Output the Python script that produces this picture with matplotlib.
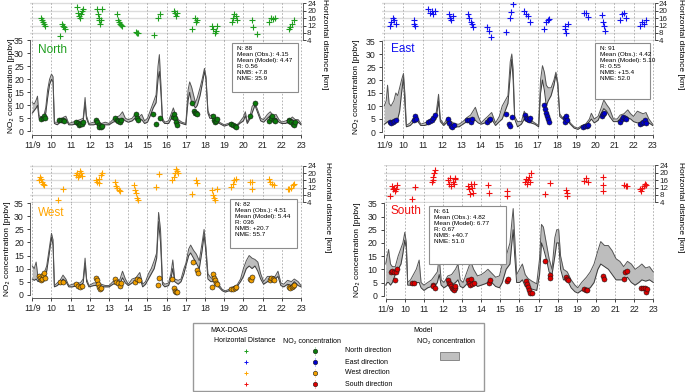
import matplotlib

matplotlib.use("Agg")
import matplotlib.pyplot as plt
from matplotlib.patches import Rectangle
import numpy as np

plt.rcParams["font.family"] = ["Liberation Sans", "DejaVu Sans"]

W, H = 685, 392

# ---------------------------------------------------------------- data
day_ticks = list(range(9, 24))
day_labels = ["11/9"] + [str(d) for d in range(10, 24)]
dist_ticks = [4, 8, 12, 16, 20, 24]
no2_ticks = [0, 5, 10, 15, 20, 25, 30, 35]

# model NO2 band (lower / upper), knots in day-of-November
north_model_t = [9.00, 9.10, 9.20, 9.27, 9.35, 9.45, 9.60, 9.70, 9.80, 9.90, 10.00, 10.08, 10.15, 10.30, 10.45,
                 10.65, 10.75, 10.90, 11.10, 11.30, 11.50, 11.65, 11.75, 11.82, 11.95, 12.20, 12.40, 12.60, 12.80,
                 13.00, 13.20, 13.40, 13.55, 13.70, 13.85, 14.00, 14.20, 14.35, 14.50, 14.70, 14.85, 15.00, 15.15,
                 15.30, 15.45, 15.55, 15.62, 15.70, 15.78, 15.90, 16.10, 16.25, 16.35, 16.45, 16.60, 16.80, 17.00,
                 17.12, 17.20, 17.30, 17.40, 17.50, 17.60, 17.75, 17.85, 17.97, 18.05, 18.15, 18.25, 18.40, 18.55,
                 18.75, 19.00, 19.20, 19.40, 19.60, 19.80, 20.00, 20.10, 20.20, 20.35, 20.45, 20.60, 20.75, 20.90,
                 21.05, 21.25, 21.40, 21.55, 21.70, 21.85, 22.00, 22.20, 22.40, 22.55, 22.70, 22.85, 23.00]
north_model_lo = [7, 8, 9, 10, 5, 4.5, 5, 7, 13, 18, 20, 19, 3, 2.5, 3.5,
                  4.5, 4.5, 2.5, 2.5, 3, 3.5, 4, 11, 5, 2.5, 2.5, 3, 2, 2.5,
                  2.5, 3.5, 4, 4, 5, 4, 3.5, 4, 5, 4, 4.5, 3, 3.5, 6,
                  9, 11, 20, 23, 15, 4, 3, 3, 5, 7, 5, 3.5, 3, 2.5,
                  12, 15, 11, 10, 9, 10, 14, 18, 23, 20, 7, 5, 5, 4,
                  3, 2, 2.5, 3, 1.5, 3, 4, 6, 3, 5, 7, 10, 7, 4,
                  3.5, 5, 6, 4.5, 5, 3.5, 3, 3, 4, 4.5, 3.5, 3.5, 2.5]
north_model_hi = [11, 10.5, 12, 13.5, 6, 5.5, 6, 9, 16, 20, 22, 21, 3.5, 3.5, 4.5,
                  5.5, 5.8, 3, 3.5, 4, 4.5, 5, 13, 6, 3, 3.5, 4, 3, 3.5,
                  3, 4.5, 5.5, 6, 7.5, 5, 4.5, 5, 6.5, 5, 6.5, 4, 5, 8,
                  11, 14, 25, 29.5, 18, 5, 3.5, 4, 7, 9, 6.5, 4.5, 3.5, 3,
                  16, 19, 17, 14, 11, 13, 17, 20, 24.2, 21, 8, 6, 6.5, 5,
                  3.5, 2.5, 3, 3.5, 2, 3.5, 5.5, 7.5, 3.5, 6, 9.5, 11, 8, 5,
                  4.5, 6.5, 7.5, 6, 6.5, 4.5, 3.5, 4, 4.5, 5.5, 4.5, 4.5, 3]

east_model_t = [9.00, 9.10, 9.17, 9.25, 9.35, 9.50, 9.60, 9.70, 9.80, 9.90, 10.00, 10.08, 10.15, 10.35, 10.55,
                10.70, 10.90, 11.10, 11.30, 11.50, 11.70, 11.83, 11.92, 12.10, 12.30, 12.50, 12.70, 12.90, 13.10,
                13.30, 13.50, 13.75, 13.90, 14.05, 14.25, 14.40, 14.60, 14.80, 15.00, 15.15, 15.30, 15.45, 15.57,
                15.65, 15.72, 15.80, 15.95, 16.15, 16.30, 16.45, 16.65, 16.85, 17.05, 17.15, 17.25, 17.35, 17.45,
                17.55, 17.70, 17.85, 17.95, 18.05, 18.15, 18.30, 18.50, 18.70, 18.90, 19.10, 19.30, 19.50, 19.70,
                19.80, 19.95, 20.15, 20.30, 20.45, 20.60, 20.75, 20.95, 21.15, 21.30, 21.50, 21.70, 21.85, 22.00,
                22.20, 22.35, 22.50, 22.65, 22.80, 23.00]
east_model_lo = [3, 3.5, 4, 3.5, 3, 3.5, 4, 5, 8, 15, 21, 10, 2, 2.5, 4,
                 4.5, 2.5, 2.5, 3, 4, 5, 12, 4, 2.5, 4, 2.5, 2, 2, 3,
                 4, 4.5, 4.5, 3.5, 3, 3.5, 4, 5, 2.5, 4, 5, 8, 11, 22,
                 28, 20, 5, 2, 3, 5, 4, 3.5, 3, 2, 15, 20, 16, 10,
                 12, 14, 18, 22, 18, 6, 5, 5, 3, 1.5, 1, 2, 2.5, 4,
                 5, 3.5, 4.5, 7, 9, 8, 6, 4, 4, 5, 4.5, 5.5, 5, 4,
                 3.5, 3.5, 4, 4.5, 3.5, 2.5]
east_model_hi = [10, 12, 18, 11, 10, 12, 15, 14, 17, 20, 22.5, 14, 2.5, 3.5, 5.5,
                 6, 3, 3.5, 4, 5.5, 7, 14.5, 5, 3, 5.5, 4, 3, 3, 4,
                 5.5, 6.5, 9.5, 6, 3.5, 5, 6, 7.5, 3.5, 6, 10, 12, 14, 27,
                 30, 24, 6, 4, 4, 8, 5.5, 4.5, 3.5, 2.5, 20, 25.5, 23, 18,
                 17, 17, 20, 23, 19, 7, 5.5, 6.5, 3.5, 2, 1.5, 2.5, 3, 5,
                 7.2, 5, 6, 9, 12.3, 10.5, 9, 5, 5, 6.5, 7, 8.5, 7, 6,
                 8, 7.5, 7, 7.5, 5, 3]

west_model_t = [9.00, 9.10, 9.20, 9.30, 9.45, 9.60, 9.75, 9.85, 10.00, 10.08, 10.15, 10.30, 10.45, 10.60, 10.75,
                10.90, 11.10, 11.30, 11.50, 11.65, 11.75, 11.83, 11.95, 12.20, 12.40, 12.60, 12.80, 13.00, 13.20,
                13.40, 13.55, 13.70, 13.85, 14.00, 14.20, 14.40, 14.60, 14.75, 14.90, 15.05, 15.20, 15.35, 15.48,
                15.58, 15.68, 15.78, 15.90, 16.10, 16.22, 16.32, 16.42, 16.60, 16.75, 16.90, 17.00, 17.15, 17.25,
                17.40, 17.55, 17.70, 17.85, 17.95, 18.05, 18.15, 18.30, 18.50, 18.70, 18.90, 19.05, 19.25, 19.45,
                19.65, 19.85, 20.00, 20.15, 20.30, 20.45, 20.60, 20.75, 20.90, 21.05, 21.25, 21.45, 21.65, 21.80,
                21.95, 22.10, 22.30, 22.50, 22.65, 22.85, 23.00]
west_model_lo = [6, 5.5, 6, 5, 5.5, 6, 9, 14, 22, 19, 3, 3.5, 4.5, 6, 5,
                 3, 3, 3.5, 3.5, 4.5, 12, 5, 3, 3.5, 3.5, 3, 3, 3, 4,
                 4.5, 4, 6.5, 4.5, 3.5, 4.5, 5, 6.5, 3, 4, 6, 8, 10, 14,
                 28, 20, 4, 3, 3.5, 6, 10, 5, 4, 5, 8, 11, 15, 16,
                 14, 12, 10, 17, 23, 16, 6, 5, 5, 3, 1.5, 1, 1.5, 2.5,
                 3, 5, 7, 10, 11, 10, 11, 9, 6, 4, 5, 5.5, 6, 7,
                 3.5, 3, 4, 3.5, 5, 3.5, 3]
west_model_hi = [11, 10, 12.5, 6.5, 7, 8, 11, 16, 23.5, 21, 3.5, 4.5, 5.5, 7.5, 6,
                 3.5, 4, 4.5, 4.5, 6, 14, 6, 3.5, 4.5, 4.5, 4, 3.5, 3.5, 5,
                 6, 5.5, 9, 6, 4, 6, 6.5, 8.5, 4, 5, 8, 10, 13, 16,
                 31.5, 25, 5, 4, 4.5, 8, 13.3, 6, 5.5, 6, 10, 12, 17.5, 19,
                 17, 15.5, 13, 20, 25, 18, 8, 6.5, 6, 4, 2, 1.5, 2, 3,
                 3.5, 6, 10, 13, 15, 14, 13.5, 12.5, 8, 5, 7, 7, 7, 9,
                 4.5, 4, 5.5, 5, 6, 5, 3.5]

south_model_t = [9.00, 9.08, 9.15, 9.25, 9.35, 9.50, 9.65, 9.80, 9.90, 10.00, 10.08, 10.15, 10.30, 10.45, 10.60,
                 10.75, 10.85, 11.00, 11.20, 11.40, 11.60, 11.70, 11.80, 11.90, 12.05, 12.25, 12.45, 12.65, 12.78,
                 12.90, 13.05, 13.25, 13.45, 13.60, 13.80, 14.00, 14.20, 14.35, 14.55, 14.75, 14.95, 15.10, 15.30,
                 15.50, 15.60, 15.67, 15.75, 15.85, 16.00, 16.15, 16.30, 16.45, 16.65, 16.90, 17.05, 17.15, 17.25,
                 17.40, 17.55, 17.70, 17.85, 17.95, 18.05, 18.15, 18.30, 18.50, 18.70, 18.90, 19.05, 19.25, 19.50,
                 19.70, 19.90, 20.10, 20.25, 20.45, 20.65, 20.85, 21.05, 21.25, 21.45, 21.65, 21.85, 22.05, 22.25,
                 22.40, 22.60, 22.80, 23.00]
south_model_lo = [4, 5, 5, 4, 5, 8, 10, 12, 16, 21, 18, 4, 4, 4.5, 5,
                  5, 3, 2, 3, 3.5, 4, 5, 8, 4, 3, 4, 4, 5, 6,
                  3.5, 3, 4.5, 6, 5, 3.5, 4, 4.5, 5, 5, 3.5, 3, 5, 10,
                  12, 20, 25, 15, 5, 5, 6, 3.5, 3, 2.5, 2, 8, 20, 18,
                  14, 9, 8, 15, 20, 20, 10, 6, 6, 3, 1.5, 1, 2, 2.5,
                  3, 5, 10, 12, 11, 10, 8, 6, 6, 6, 7, 5, 4, 5,
                  6, 5.5, 6, 5]
south_model_hi = [12, 15, 17.5, 12, 11, 11, 15, 18, 20, 24, 20, 5, 6, 8, 10,
                  13.5, 5, 4, 5, 6, 8, 9, 14.5, 6, 5, 7.5, 8, 10, 12,
                  6, 5, 9, 13, 10, 7.5, 8, 9, 10, 8.5, 7, 7.5, 12, 15,
                  20, 28, 33, 22, 8, 10, 12, 8, 6.5, 5.5, 4.5, 14, 27, 26,
                  20, 14, 10, 22, 25, 25, 15, 10, 9, 6, 4, 3, 5, 7,
                  9, 12, 17, 20.5, 19, 19, 17, 14, 13, 11, 13, 12, 10, 11,
                  12, 10.5, 11, 9]

# MAX-DOAS NO2 observations
north_obs_t = [9.45, 9.55, 9.60, 9.65, 10.40, 10.50, 10.60, 10.65, 11.30, 11.40, 11.45, 11.50, 11.60, 11.65,
               12.30, 12.35, 12.45, 12.50, 12.60, 12.65, 13.30, 13.40, 13.45, 13.55, 13.60, 14.40, 14.45, 14.50,
               15.30, 15.45, 15.65, 16.35, 16.40, 16.45, 16.50, 16.55, 17.30, 17.42, 17.48, 17.55, 17.60,
               18.40, 18.45, 18.50, 18.55, 18.60, 19.35, 19.45, 19.55, 19.60, 20.35, 20.60,
               21.35, 21.45, 21.50, 21.60, 21.65, 22.35, 22.40, 22.50, 22.60, 22.65, 22.70]
north_obs_no2 = [4.7, 5.0, 6.0, 5.2, 4.5, 4.3, 4.5, 4.0, 3.5, 3.2, 2.5, 2.8, 3.0, 3.5,
                 4.5, 3.5, 2.5, 1.8, 1.5, 2.0, 5.0, 4.5, 4.0, 3.5, 4.5, 6.5, 5.0, 4.5,
                 6.5, 3.0, 5.0, 5.5, 6.5, 5.0, 3.5, 2.5, 10.8, 8.0, 6.9, 7.2, 6.5,
                 5.8, 4.5, 3.5, 4.0, 4.8, 3.0, 2.5, 2.0, 1.8, 5.8, 10.8,
                 4.0, 5.0, 5.8, 4.5, 3.8, 4.2, 3.8, 3.5, 3.0, 2.5, 3.5]
east_obs_t = [9.30, 9.35, 9.45, 9.50, 9.60, 10.55, 10.60, 10.65, 11.30, 11.40, 11.50, 11.55, 11.65,
              12.30, 12.40, 12.50, 12.55, 12.65, 13.30, 13.40, 13.50, 13.60, 14.35, 14.45, 14.50,
              15.33, 15.50, 15.55, 15.68, 16.35, 16.40, 16.45, 16.55, 16.62,
              17.35, 17.40, 17.45, 17.50, 17.55, 17.60, 18.40, 18.45, 18.50, 18.55,
              19.35, 19.45, 19.55, 19.60, 20.35, 20.40, 20.45, 21.30, 21.40, 21.45, 21.55, 21.60,
              22.35, 22.45, 22.50, 22.60, 22.65]
east_obs_no2 = [4.0, 3.5, 3.8, 4.2, 4.5, 4.5, 6.0, 5.0, 4.0, 4.2, 4.8, 5.5, 6.5,
                5.0, 3.5, 2.5, 2.0, 2.8, 4.8, 4.5, 4.0, 5.0, 4.0, 4.5, 5.0,
                6.8, 3.0, 2.5, 5.8, 6.5, 5.5, 5.0, 4.5, 5.5,
                10.5, 9.0, 7.5, 6.0, 5.0, 4.0, 4.0, 5.5, 6.0, 4.5,
                2.0, 2.5, 2.5, 2.8, 6.0, 6.8, 7.2, 4.0, 5.0, 5.8, 5.5, 5.0,
                3.0, 3.5, 4.0, 4.5, 3.5]
west_obs_t = [9.35, 9.40, 9.45, 9.50, 9.55, 9.60, 9.65, 10.45, 10.60, 11.30, 11.40, 11.50, 11.60,
              12.30, 12.35, 12.40, 12.45, 12.55, 12.60, 13.30, 13.35, 13.45, 13.55, 13.60,
              14.35, 14.45, 14.55, 15.55, 15.60, 16.30, 16.40, 16.45, 16.50, 16.55,
              17.35, 17.60, 17.65, 18.35, 18.40, 18.45, 18.50, 18.55, 18.60,
              19.35, 19.45, 19.55, 19.60, 20.35, 20.40, 20.45, 21.40, 21.45, 21.55, 21.60,
              22.35, 22.45, 22.55, 22.60, 22.65]
west_obs_no2 = [7.0, 6.5, 5.5, 6.0, 7.5, 8.5, 6.5, 4.8, 4.8, 4.0, 3.5, 3.0, 3.5,
                6.5, 5.5, 4.0, 3.0, 2.0, 2.5, 6.0, 5.0, 4.5, 3.5, 4.5,
                5.0, 6.0, 5.5, 3.7, 6.3, 6.0, 2.5, 1.5, 1.0, 1.2,
                12.4, 9.5, 8.5, 3.0, 8.0, 6.5, 5.5, 4.5, 4.0,
                2.0, 2.0, 2.5, 3.0, 6.0, 5.5, 6.8, 5.5, 6.5, 6.0, 5.5,
                3.0, 2.5, 3.0, 3.5, 3.8]
south_obs_t = [9.30, 9.35, 9.45, 9.50, 9.55, 9.60, 10.40, 10.50, 11.45, 11.50, 11.60,
               12.25, 12.30, 12.35, 12.40, 12.45, 12.50, 12.55, 12.60, 12.65,
               13.30, 13.35, 13.40, 13.45, 13.50, 13.60, 14.40, 14.45, 15.35, 15.40,
               16.35, 16.40, 16.42, 16.50, 16.55, 16.65, 17.33, 17.58, 17.60,
               18.45, 18.50, 18.55, 19.40, 19.50, 19.55, 20.35, 20.40, 21.45, 21.50, 21.60,
               22.35, 22.45, 22.55, 22.60, 22.65]
south_obs_no2 = [9.0, 9.5, 9.0, 6.0, 9.0, 10.2, 5.0, 4.8, 4.0, 3.5, 3.0,
                 6.0, 5.0, 4.5, 3.8, 3.0, 2.5, 2.0, 2.8, 3.5,
                 6.0, 5.0, 4.0, 6.5, 4.5, 5.0, 5.0, 5.8, 5.5, 6.3,
                 5.5, 4.5, 3.2, 2.0, 1.2, 1.0, 13.3, 8.0, 6.6,
                 7.2, 6.5, 5.8, 2.5, 2.3, 2.0, 7.5, 6.5, 6.5, 8.8, 9.5,
                 2.8, 2.8, 3.0, 1.5, 2.5]

# MAX-DOAS horizontal distance [km]
north_dist_t = [9.45, 9.50, 9.55, 9.60, 9.65, 10.45, 10.55, 10.60, 10.65, 10.70,
                11.35, 11.40, 11.45, 11.50, 11.55, 11.60, 11.65, 12.35, 12.40, 12.45, 12.50, 12.55, 12.60, 12.65,
                13.40, 13.45, 13.50, 13.55, 13.60, 13.65, 14.40, 14.45, 14.50, 15.35, 15.55, 15.65,
                16.40, 16.45, 16.50, 16.55, 17.30, 17.50, 17.55, 17.60, 18.35, 18.42, 18.50, 18.55, 18.62,
                19.40, 19.45, 19.50, 19.60, 19.65, 20.45, 20.50, 20.70, 21.35, 21.45, 21.55, 21.65,
                22.35, 22.45, 22.55, 22.65]
north_dist_km = [16, 15, 14, 13, 12, 6.3, 13, 12, 11, 10,
                 22, 19, 17, 16, 18, 20, 21, 21, 18, 16, 15, 13, 15, 21,
                 18, 15, 14, 13, 12.5, 12, 8.5, 7.8, 8, 6.9, 16, 18.3,
                 20, 19, 17, 19, 10, 16, 14, 15, 12, 10, 8, 9, 12,
                 14, 16, 18, 17, 15, 15, 11, 7.5, 14, 16, 15.5, 16,
                 10, 11, 13, 15]
east_dist_t = [9.30, 9.35, 9.45, 9.50, 9.60, 10.55, 10.57, 10.60, 11.30, 11.40, 11.50, 11.55, 11.65,
               12.35, 12.45, 12.50, 12.60, 13.35, 13.40, 13.50, 13.55, 13.65, 14.35, 14.45, 14.55,
               15.35, 15.55, 15.60, 15.70, 16.30, 16.40, 16.50, 16.60, 17.35, 17.45, 17.55, 17.60,
               18.40, 18.45, 18.50, 18.60, 19.40, 19.50, 19.60, 20.35, 20.40, 20.45, 20.50,
               21.30, 21.40, 21.50, 21.60, 22.35, 22.45, 22.55, 22.65]
east_dist_km = [11.5, 14, 16, 15, 13, 15, 13, 12, 21, 19, 20, 18, 20,
                18, 16, 15, 17, 18, 16, 14, 13, 11, 11, 9, 6,
                8.3, 16, 19.5, 23.6, 20, 18, 17, 14, 10, 14, 15, 15.5,
                12, 10, 8, 13, 19, 18.5, 16.5, 17.5, 14, 12, 9,
                15, 18, 19, 16, 12, 14, 13, 15]
west_dist_t = [9.35, 9.40, 9.45, 9.50, 9.55, 9.60, 10.32, 10.58,
               11.30, 11.35, 11.40, 11.45, 11.50, 11.55, 11.60, 12.30, 12.35, 12.45, 12.50, 12.60, 12.65,
               13.30, 13.35, 13.40, 13.50, 13.55, 14.30, 14.35, 14.40, 14.45, 14.50, 15.45, 15.60,
               16.30, 16.40, 16.45, 16.50, 16.55, 16.60, 17.30, 17.55, 17.57,
               18.35, 18.40, 18.45, 18.50, 18.60, 19.35, 19.45, 19.50, 19.60, 20.35, 20.45, 20.47,
               21.35, 21.40, 21.50, 21.60, 22.30, 22.40, 22.50, 22.60, 22.65]
west_dist_km = [16, 18, 17, 15, 14, 13.5, 5, 11,
                19, 20, 18, 19, 21, 20, 18.5, 16, 15, 14.5, 17, 19, 20,
                15, 13, 12, 10.5, 10, 13.5, 10.5, 9, 6.5, 5, 12.4, 19.5,
                16, 18, 20, 22, 21, 20, 8.8, 16.3, 14.5,
                10.5, 8, 6.5, 5.5, 11, 12.5, 14, 16, 17, 15, 15, 11,
                17, 15, 14, 13.5, 11, 11.5, 12, 13.5, 14]
south_dist_t = [9.25, 9.35, 9.40, 9.45, 9.50, 9.55, 9.60, 10.40, 10.55,
                11.40, 11.45, 11.50, 11.55, 11.60, 12.25, 12.30, 12.35, 12.40, 12.50, 12.55, 12.60, 12.65,
                13.30, 13.35, 13.40, 13.45, 13.50, 13.55, 13.60, 14.35, 14.40, 15.35, 15.37,
                16.30, 16.35, 16.40, 16.45, 16.50, 16.55, 16.60, 17.35, 17.60,
                18.45, 18.48, 18.50, 19.40, 19.50, 19.60, 20.35, 20.36, 20.37,
                21.45, 21.55, 21.60, 22.30, 22.35, 22.40, 22.50, 22.55, 22.60]
south_dist_km = [7.5, 13, 11, 12, 10, 11, 13.5, 6, 12.3,
                 15, 16, 18, 20, 21.5, 16, 14, 17, 13, 15, 14, 16.5, 17,
                 13, 11, 8.5, 14, 12, 9, 14, 13.5, 9, 10.4, 7.5,
                 15, 16.5, 14, 16, 18, 15, 20, 8.6, 14.5,
                 10.5, 9, 7.5, 15.5, 17, 15, 17.8, 13.5, 10.4,
                 13.5, 13, 13, 11, 10, 12, 13, 14, 13.5]

directions = ["North", "East", "West", "South"]
label_colors = ["#1E9E1E", "#1010F0", "#FFA500", "#F01010"]
dot_colors = ["#0B7A0B", "#0000CC", "#F2A000", "#DD0000"]
stats = [
    ["N: 88", "Mean (Obs.): 4.15", "Mean (Model): 4.47", "R: 0.56", "NMB: +7.8", "NME: 35.9"],
    ["N: 91", "Mean (Obs.): 4.42", "Mean (Model): 5.10", "R: 0.55", "NMB: +15.4", "NME: 52.0"],
    ["N: 82", "Mean (Obs.): 4.51", "Mean (Model): 5.44", "R: 036", "NMB: +20.7", "NME: 55.7"],
    ["N: 61", "Mean (Obs.): 4.82", "Mean (Model): 6.77", "R: 0.67", "NMB: +40.7", "NME: 51.0"],
]
models = [
    (north_model_t, north_model_lo, north_model_hi),
    (east_model_t, east_model_lo, east_model_hi),
    (west_model_t, west_model_lo, west_model_hi),
    (south_model_t, south_model_lo, south_model_hi),
]
obs = [
    (north_obs_t, north_obs_no2),
    (east_obs_t, east_obs_no2),
    (west_obs_t, west_obs_no2),
    (south_obs_t, south_obs_no2),
]
dists = [
    (north_dist_t, north_dist_km),
    (east_dist_t, east_dist_km),
    (west_dist_t, west_dist_km),
    (south_dist_t, south_dist_km),
]

# ---------------------------------------------------------------- layout (pixels)
# x of 11/9, x of 23, y of 0 ppbv, y of 35 ppbv, y of 24 km, y of 4 km
geoms = [
    (32.3, 301.0, 131.3, 40.3, 3.3, 40.3),
    (384.3, 652.7, 132.0, 41.0, 3.3, 40.3),
    (32.3, 301.0, 294.7, 203.3, 165.7, 202.3),
    (385.7, 653.3, 295.7, 203.3, 165.5, 202.3),
]
# label positions: (ylabel x, ylabel y, rlabel x, rlabel y, name x, name y)
label_pos = [
    (12, 86, 325, 44, 38, 50),
    (357, 87, 681, 44, 391, 49),
    (8, 249, 328, 207, 38, 213),
    (358, 250, 681, 207, 391, 211),
]
# stats boxes: left, top, right, bottom
box_pos = [
    (232, 43, 298, 92),
    (595, 43, 650, 99),
    (230, 199, 297, 248),
    (429, 206, 506, 264),
]

XL, XR = 8.9, 23.1
YB, YT = -1.3, 35.15
DB, DT = 3.6, 24.5
GRID = "#A8A8A8"


def rect(left, top, right, bottom):
    return [left / W, 1 - bottom / H, (right - left) / W, (bottom - top) / H]


fig = plt.figure(figsize=(W / 100, H / 100), dpi=100)
over = fig.add_axes([0, 0, 1, 1], zorder=10)
over.set_xlim(0, W)
over.set_ylim(H, 0)
over.axis("off")

for i, name in enumerate(directions):
    x0, x1, y0, y35, d24, d4 = geoms[i]
    ppd = (x1 - x0) / 14
    upp = (y0 - y35) / 35
    ppk = (d4 - d24) / 20
    left = x0 - (9 - XL) * ppd
    right = x1 + (XR - 23) * ppd

    # distance panel
    axd = fig.add_axes(rect(left, d24 - (DT - 24) * ppk, right, d4 + (4 - DB) * ppk))
    axd.patch.set_visible(False)
    axd.set_xlim(XL, XR)
    axd.set_ylim(DB, DT)
    for k in dist_ticks:
        axd.axhline(k, color="#DCDCDC", lw=1.0, zorder=0)
    for d in day_ticks:
        axd.axvline(d, color=GRID, lw=0.6, ls=(0, (2, 2)), zorder=0)
    dt, dk = dists[i]
    axd.plot(dt, dk, "+", color=label_colors[i], ms=4.2, mew=0.8, zorder=3)
    for s in ["left", "top", "bottom"]:
        axd.spines[s].set_visible(False)
    axd.spines["right"].set_bounds(4, 24)
    axd.spines["right"].set_linewidth(0.6)
    axd.spines["right"].set_color("#444444")
    axd.set_xticks([])
    axd.yaxis.tick_right()
    axd.set_yticks(dist_ticks)
    axd.tick_params(axis="y", direction="out", length=2, width=0.6, pad=1, labelsize=5.8, colors="#222222")

    # NO2 panel
    ax = fig.add_axes(rect(left, y35 - (YT - 35) * upp, right, y0 - YB * upp))
    ax.patch.set_visible(False)
    ax.set_xlim(XL, XR)
    ax.set_ylim(YB, YT)
    for d in day_ticks:
        ax.axvline(d, color=GRID, lw=0.6, ls=(0, (2, 2)), zorder=0)
    mt, mlo, mhi = models[i]
    ax.fill_between(mt, mlo, mhi, color="#BDBDBD", lw=0, zorder=1)
    ax.plot(mt, mlo, color="#3A3A3A", lw=0.7, zorder=2)
    ax.plot(mt, mhi, color="#555555", lw=0.7, zorder=2)
    ot, ov = obs[i]
    ax.plot(ot, ov, "o", ms=3.6, mfc=dot_colors[i], mec="#1A1A1A", mew=0.4, zorder=4)
    for s in ["top", "right"]:
        ax.spines[s].set_visible(False)
    ax.spines["left"].set_bounds(0, 35)
    ax.spines["bottom"].set_bounds(9, 23)
    for s in ["left", "bottom"]:
        ax.spines[s].set_linewidth(0.6)
        ax.spines[s].set_color("#444444")
    ax.set_yticks(no2_ticks)
    ax.set_xticks(day_ticks)
    ax.set_xticklabels(day_labels)
    ax.tick_params(direction="out", length=2.2, width=0.6, labelsize=6.3, colors="#222222")
    ax.tick_params(axis="y", pad=2.5)
    ax.tick_params(axis="x", pad=2)

    lx, ly, rx, ry, nx, ny = label_pos[i]
    over.text(lx, ly, "NO\u2082 concentration [ppbv]", rotation=90, ha="center", va="center", fontsize=6)
    over.text(rx, ry, "Horizontal distance [km]", rotation=270, ha="center", va="center", fontsize=6)
    over.text(nx, ny, name, color=label_colors[i], ha="left", va="center", fontsize=8.5)

    bl, bt, br, bb = box_pos[i]
    over.add_patch(Rectangle((bl, bt), br - bl, bb - bt, fill=True, facecolor="white",
                             edgecolor="#8C8C8C", lw=0.8, zorder=5))
    over.text(bl + 5, bt + 2.5, "\n".join(stats[i]), ha="left", va="top", fontsize=4.6,
              linespacing=1.25, zorder=6)

# ---------------------------------------------------------------- legend
over.add_patch(Rectangle((193, 323), 291, 68, fill=False, edgecolor="#999999", lw=1.0))
over.text(210, 331, "MAX-DOAS", ha="left", va="center", fontsize=5)
over.text(413, 331, "Model", ha="left", va="center", fontsize=5)
over.text(245, 341, "Horizontal Distance", ha="center", va="center", fontsize=5)
over.text(312, 341, "NO\u2082 concentration", ha="center", va="center", fontsize=5)
over.text(446, 341, "NO\u2082 concentration", ha="center", va="center", fontsize=5)
row_y = [351, 362, 373, 384]
for j, name in enumerate(directions):
    over.plot([246], [row_y[j]], "+", color=label_colors[j], ms=3.5, mew=0.7)
    over.plot([315, 315], [row_y[j] - 4, row_y[j] + 4], color=label_colors[j], lw=0.6, alpha=0.4)
    over.plot([315], [row_y[j]], "o", ms=3.2, mfc=dot_colors[j], mec="#1A1A1A", mew=0.4)
    over.text(345, row_y[j], f"{name} direction", ha="left", va="center", fontsize=5)
over.add_patch(Rectangle((440, 352), 19, 8, facecolor="#C0C0C0", edgecolor="#7A7A7A", lw=0.6))

fig.savefig("out.png", dpi=100)
